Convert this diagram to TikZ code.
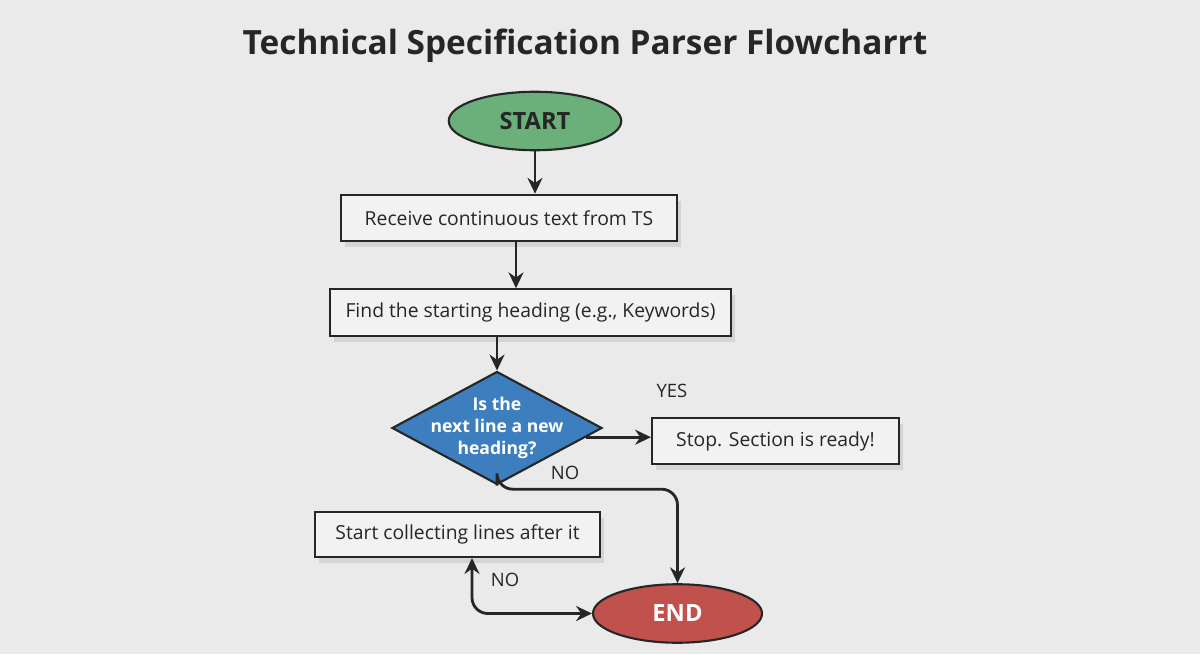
\documentclass[tikz,border=0pt]{standalone}
\usepackage{fontspec}
\setmainfont{Open Sans}
\usetikzlibrary{arrows.meta, positioning, calc, shapes.geometric, shadows}
\definecolor{fcbg}{HTML}{EAEAEA}
\definecolor{fcbox}{HTML}{F2F2F2}
\definecolor{fcgreen}{HTML}{6BAF7B}
\definecolor{fcblue}{HTML}{3D7EBE}
\definecolor{fcred}{HTML}{C0514D}
\definecolor{fcblack}{HTML}{262626}

\begin{document}
\begin{tikzpicture}[
    >=Stealth,
    step box/.style={
        draw=fcblack, fill=fcbox, line width=1.2pt, minimum height=0.93cm,
        font=\fontsize{11}{13}\selectfont, text=fcblack,
        drop shadow={opacity=0.2, shadow xshift=2.5pt, shadow yshift=-3.5pt}
    },
    terminal/.style={
        ellipse, draw=fcblack, line width=1.2pt, minimum width=3.45cm,
        minimum height=1.17cm, font=\fontsize{13.5}{15}\selectfont\bfseries
    },
    decision/.style={
        diamond, draw=fcblack, fill=fcblue, line width=1.2pt, inner sep=0pt,
        minimum width=4.2cm, minimum height=2.26cm
    },
    dectext/.style={
        text=white, align=center, font=\fontsize{10}{12.5}\selectfont\bfseries
    },
    flow/.style={draw, line width=1.6pt, fcblack, >={Stealth[length=9pt, width=8.5pt]}},
    every edge/.style={flow, ->},
    lbl/.style={font=\fontsize{10.5}{12}\selectfont, text=fcblack},
]

% ---- canvas ----
\fill[fcbg] (0,0) rectangle (24,13.08);
\useasboundingbox (0,0) rectangle (24,13.08);

\node[font=\fontsize{19}{22}\selectfont\bfseries, text=fcblack] (title) at (11.7, 12.16)
    {Technical Specification Parser Flowcharrt};

% ---- main column, top to bottom ----
\node[terminal, fill=fcgreen, text=fcblack] (start) at (10.70, 10.66) {START};
\node[step box, minimum width=6.72cm] (recv) at (10.18, 8.72)
    {Receive continuous text from TS\hspace{0.25cm}};
\node[step box, minimum width=8.02cm] (find) at (10.61, 6.83)
    {Find the starting heading (e.g., Keywords)};
\node[decision, label={[dectext]center:{Is the\\next line a new\\heading?}}] (check) at (9.94, 4.52) {};

% ---- outcomes ----
\node[step box, minimum width=4.94cm, minimum height=0.92cm] (stop) at (15.51, 4.26)
    {Stop. Section is ready!};
\node[step box, minimum width=5.7cm, minimum height=0.9cm] (collect) at (9.15, 2.39)
    {Start collecting lines after it};
\node[terminal, fill=fcred, text=white, minimum width=3.38cm] (done) at (13.55, 0.81) {END};

% ---- forward edges ----
\draw (start.south) edge (start.south |- recv.north);
\draw ([xshift=0.14cm]recv.south) edge ([xshift=0.14cm]recv.south |- find.north);
\draw (find.south -| check.north) edge (check.north);
\draw ($(check.east)!0.16!(check.south)$) coordinate (yes) edge (yes -| stop.west);

% ---- NO branches ----
\draw[flow, ->, rounded corners=9pt]
    (check.south) |- ([yshift=1.88cm]done.north) -- (done.north);
\draw[flow, <->, rounded corners=9pt]
    ([xshift=0.29cm]collect.south) |- (done.west);

% ---- labels ----
\node[lbl] (yeslbl) at (13.44, 5.26) {YES};
\node[lbl] (nolbl) at (11.30, 3.62) {NO};
\node[lbl] (nolbl2) at (10.10, 1.48) {NO};

\end{tikzpicture}
\end{document}
